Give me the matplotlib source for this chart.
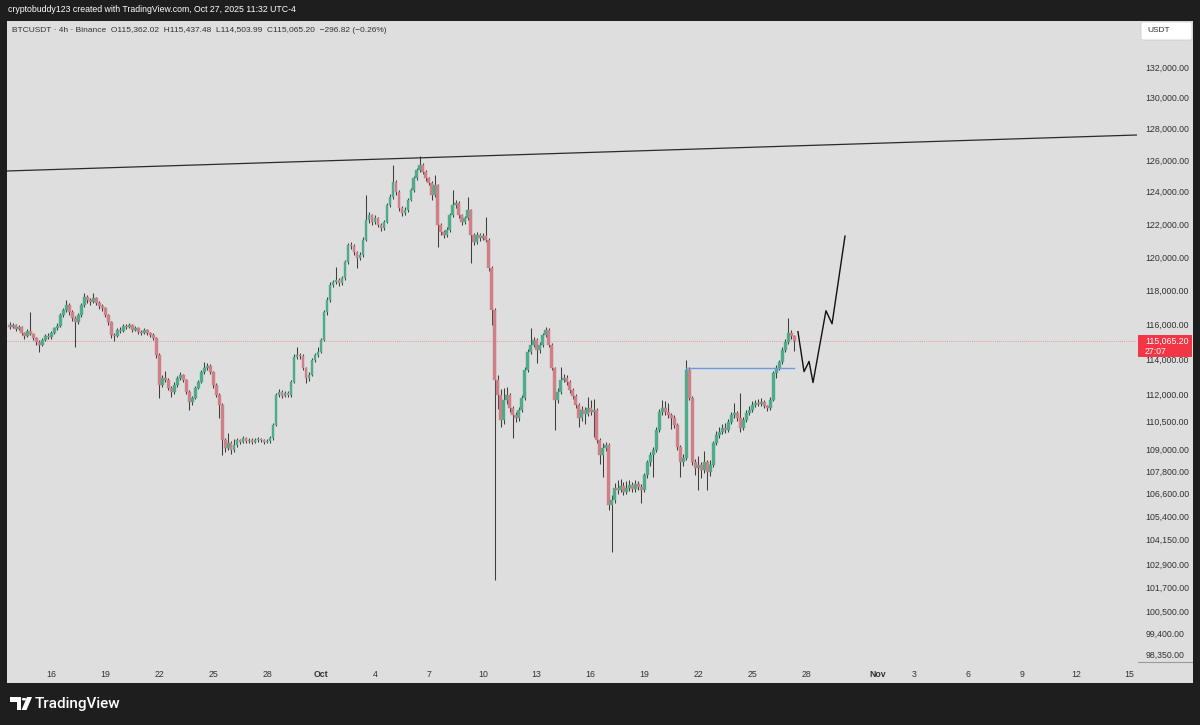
import numpy as np
import pandas as pd
import matplotlib
matplotlib.use('Agg')
import matplotlib.pyplot as plt
from matplotlib.patches import Rectangle, Polygon, Circle, FancyBboxPatch
from matplotlib.ticker import FixedLocator, NullLocator

plt.rcParams['font.family'] = ['Liberation Sans', 'DejaVu Sans']

# ---------------- data (BTCUSDT 4h, prices in thousands USDT) ----------------
first_bar = "2025-09-13 16:00"
first_open = 116.00
close_k = [
    115.87, 115.99, 115.76, 115.87, 115.52, 115.35,
    115.64, 115.46, 115.23, 115.00, 114.83, 115.12,
    115.35, 115.29, 115.52, 115.81, 115.93, 116.57,
    116.86, 117.16, 116.74, 116.39, 116.16, 116.57,
    117.16, 117.63, 117.45, 117.33, 117.57, 117.27,
    117.10, 116.98, 116.57, 116.16, 115.41, 115.35,
    115.70, 115.66, 115.93, 115.87, 115.99, 115.70,
    115.81, 115.58, 115.55, 115.70, 115.52, 115.41,
    115.23, 114.26, 112.55, 112.94, 112.83, 112.38,
    112.16, 112.55, 112.94, 113.12, 112.83, 112.16,
    111.59, 111.82, 112.38, 112.72, 113.29, 113.51,
    113.63, 113.29, 112.55, 111.99, 111.43, 109.49,
    109.05, 109.32, 108.94, 109.21, 109.49, 109.38,
    109.60, 109.43, 109.49, 109.38, 109.49, 109.54,
    109.49, 109.38, 109.43, 109.60, 110.32, 111.99,
    112.16, 111.93, 112.10, 111.99, 112.72, 114.14,
    114.26, 114.20, 113.51, 112.94, 113.12, 113.97,
    114.26, 114.43, 115.12, 116.74, 117.45, 118.34,
    118.51, 118.63, 118.46, 118.75, 119.71, 120.73,
    120.67, 120.31, 119.95, 120.13, 121.04, 122.26,
    122.56, 122.13, 122.38, 121.95, 121.77, 122.13,
    123.18, 123.67, 124.61, 123.98, 122.99, 122.69,
    122.87, 123.49, 124.11, 124.86, 125.36, 125.68,
    125.23, 124.86, 124.54, 123.80, 124.42, 121.95,
    121.52, 121.34, 121.65, 122.56, 123.18, 123.30,
    122.56, 122.13, 122.38, 122.87, 121.34, 120.91,
    121.34, 121.16, 121.28, 121.04, 119.35, 116.86,
    112.83, 111.99, 110.59, 111.71, 111.99, 111.26,
    110.87, 110.70, 111.15, 111.82, 113.40, 114.43,
    114.83, 115.12, 114.54, 114.83, 115.41, 115.70,
    114.83, 113.51, 111.71, 112.16, 112.83, 112.94,
    112.72, 112.27, 111.93, 111.43, 110.70, 111.15,
    110.92, 111.26, 111.04, 111.15, 109.49, 108.67,
    109.05, 109.21, 105.98, 106.24, 106.89, 106.78,
    107.00, 106.67, 106.89, 107.05, 106.83, 107.10,
    106.94, 106.78, 107.58, 108.29, 108.67, 108.94,
    110.04, 111.04, 111.26, 111.04, 110.87, 110.70,
    110.32, 109.10, 108.29, 108.51, 113.40, 111.82,
    108.29, 107.96, 108.13, 107.86, 108.29, 107.75,
    108.13, 109.32, 109.76, 109.93, 110.15, 110.04,
    110.48, 110.87, 110.98, 110.70, 110.15, 110.59,
    110.98, 111.15, 111.43, 111.54, 111.48, 111.59,
    111.37, 111.26, 111.71, 113.23, 113.51, 113.86,
    114.54, 115.00, 115.52, 115.362, 115.065,
]
high_k = [
    116.15, 116.10, 116.05, 115.98, 115.93, 115.60,
    115.75, 116.74, 115.55, 115.30, 115.10, 115.22,
    115.45, 115.50, 115.62, 115.90, 116.10, 116.70,
    117.00, 117.45, 117.25, 116.85, 116.50, 116.70,
    117.30, 117.86, 117.75, 117.55, 117.86, 117.65,
    117.40, 117.20, 117.05, 116.65, 116.25, 115.55,
    115.80, 115.85, 116.05, 116.02, 116.10, 116.05,
    115.92, 115.88, 115.70, 115.80, 115.78, 115.60,
    115.50, 115.30, 114.35, 113.10, 113.35, 112.95,
    112.50, 112.70, 113.05, 113.30, 113.20, 112.90,
    112.25, 111.95, 112.50, 112.85, 113.40, 113.86,
    113.80, 113.75, 113.35, 112.65, 112.10, 111.55,
    109.60, 109.90, 109.45, 109.55, 109.60, 109.55,
    109.70, 109.68, 109.62, 109.58, 109.60, 109.65,
    109.62, 109.55, 109.55, 109.70, 110.45, 112.10,
    112.35, 112.25, 112.22, 112.20, 112.85, 114.30,
    114.71, 114.40, 114.30, 113.60, 113.30, 114.10,
    114.40, 114.71, 115.25, 116.85, 117.60, 118.50,
    118.65, 119.41, 118.75, 118.90, 119.85, 120.85,
    120.90, 120.80, 120.40, 120.30, 121.20, 123.80,
    122.75, 122.65, 122.55, 122.45, 122.05, 122.25,
    123.30, 123.85, 125.68, 124.75, 124.10, 123.10,
    123.05, 123.60, 124.25, 125.00, 125.50, 126.24,
    125.80, 125.35, 124.95, 124.65, 125.04, 124.50,
    122.05, 121.65, 121.80, 122.70, 124.11, 123.50,
    123.40, 122.65, 122.50, 123.67, 122.95, 121.45,
    121.50, 121.45, 121.45, 122.44, 121.15, 119.45,
    117.00, 113.10, 112.30, 112.40, 112.45, 112.10,
    111.40, 111.05, 111.30, 112.00, 113.55, 114.60,
    115.82, 115.30, 115.25, 115.00, 115.55, 115.87,
    115.80, 114.95, 113.60, 112.40, 113.57, 113.20,
    113.10, 112.85, 112.40, 112.05, 111.55, 111.35,
    111.30, 111.88, 111.70, 111.75, 111.25, 109.60,
    109.30, 109.40, 109.30, 106.50, 107.15, 107.30,
    107.35, 107.20, 107.25, 107.30, 107.20, 107.30,
    107.25, 107.10, 107.70, 108.40, 108.85, 109.10,
    110.20, 111.20, 111.71, 111.65, 111.55, 111.00,
    110.85, 110.45, 109.20, 108.70, 113.97, 113.55,
    111.95, 108.45, 108.60, 108.30, 108.90, 108.40,
    108.40, 109.45, 110.00, 110.21, 110.35, 110.45,
    110.65, 111.05, 111.54, 111.10, 112.10, 110.75,
    111.15, 111.35, 111.65, 111.70, 111.75, 111.80,
    111.70, 111.45, 111.85, 113.35, 113.70, 113.97,
    114.70, 115.20, 116.39, 115.70, 115.437,
]
low_k = [
    115.75, 115.80, 115.65, 115.68, 115.40, 115.20,
    115.28, 115.38, 115.10, 114.85, 114.43, 114.75,
    115.05, 115.15, 115.20, 115.45, 115.72, 115.85,
    116.45, 116.75, 116.60, 116.25, 114.71, 116.05,
    116.45, 117.05, 117.30, 117.15, 117.25, 117.15,
    116.95, 116.80, 116.45, 116.00, 115.25, 115.05,
    115.28, 115.55, 115.60, 115.75, 115.80, 115.60,
    115.62, 115.48, 115.42, 115.48, 115.40, 115.30,
    115.10, 114.10, 111.82, 112.45, 112.70, 112.25,
    111.88, 112.05, 112.45, 112.85, 112.70, 112.05,
    111.15, 111.45, 111.75, 112.30, 112.65, 113.20,
    113.40, 113.15, 112.40, 111.85, 110.70, 108.67,
    108.85, 108.95, 108.75, 108.85, 109.10, 109.25,
    109.30, 109.32, 109.35, 109.28, 109.30, 109.40,
    109.38, 109.28, 109.30, 109.35, 109.50, 110.25,
    111.85, 111.80, 111.85, 111.88, 111.90, 112.65,
    114.05, 114.05, 113.40, 112.65, 112.80, 113.05,
    113.85, 114.15, 114.35, 115.05, 116.60, 117.35,
    118.20, 118.40, 118.30, 118.35, 118.65, 119.60,
    120.50, 120.15, 119.35, 119.80, 120.00, 120.95,
    122.10, 121.95, 122.00, 121.80, 121.60, 121.65,
    122.05, 123.05, 123.55, 123.80, 122.80, 122.50,
    122.55, 122.75, 123.40, 124.00, 124.75, 125.25,
    125.10, 124.70, 124.40, 123.49, 123.70, 120.61,
    121.35, 121.15, 121.20, 121.55, 122.45, 123.00,
    122.40, 121.95, 122.00, 122.25, 119.65, 120.75,
    120.80, 121.00, 121.05, 120.90, 119.20, 115.99,
    102.07, 111.20, 110.20, 110.40, 111.50, 111.05,
    109.60, 110.50, 110.55, 111.05, 111.70, 113.30,
    114.30, 114.70, 113.80, 114.40, 114.70, 115.30,
    114.70, 113.40, 110.04, 111.55, 112.05, 112.70,
    112.55, 112.10, 111.75, 111.25, 110.21, 110.55,
    110.40, 110.80, 110.90, 109.65, 109.35, 108.20,
    107.50, 108.90, 105.71, 103.51, 106.10, 106.55,
    106.65, 106.50, 106.55, 106.75, 106.65, 106.70,
    106.80, 106.08, 106.70, 107.45, 108.10, 107.48,
    108.85, 109.95, 110.90, 110.85, 110.70, 110.10,
    110.15, 108.95, 107.48, 108.10, 108.40, 111.70,
    108.15, 107.60, 106.78, 107.40, 107.70, 106.78,
    107.55, 108.00, 109.20, 109.60, 109.80, 109.85,
    109.95, 110.35, 110.70, 110.55, 109.95, 110.05,
    110.50, 110.85, 111.05, 111.30, 111.35, 111.40,
    111.25, 111.10, 111.15, 111.65, 112.94, 113.40,
    113.75, 114.45, 114.90, 115.20, 114.504,
]
last_price = 115065.20

# hand-drawn trendline, horizontal level and projected path
trend_dates = ["2025-09-13 12:43", "2025-11-15 09:50"]
trend_prices = [125296, 127577]
level_dates = ["2025-10-21 08:00", "2025-10-27 08:00"]
level_price = 113500
proj_dates = ["2025-10-27 13:00", "2025-10-27 21:07", "2025-10-28 03:50",
              "2025-10-28 09:07", "2025-10-29 02:24", "2025-10-29 10:33",
              "2025-10-30 03:50"]
proj_prices = [115600, 113310, 113890, 112690, 116820, 116060, 121270]

price_ticks = [132000, 130000, 128000, 126000, 124000, 122000, 120000, 118000,
               116000, 114000, 112000, 110500, 109000, 107800, 106600, 105400,
               104150, 102900, 101700, 100500, 99400, 98350]
date_ticks = ["2025-09-16", "2025-09-19", "2025-09-22", "2025-09-25", "2025-09-28",
              "2025-10-01", "2025-10-04", "2025-10-07", "2025-10-10", "2025-10-13",
              "2025-10-16", "2025-10-19", "2025-10-22", "2025-10-25", "2025-10-28",
              "2025-11-01", "2025-11-03", "2025-11-06", "2025-11-09", "2025-11-12",
              "2025-11-15"]
date_labels = ["16", "19", "22", "25", "28", "Oct", "4", "7", "10", "13", "16",
               "19", "22", "25", "28", "Nov", "3", "6", "9", "12", "15"]

header = "cryptobuddy123 created with TradingView.com, Oct 27, 2025 11:32 UTC-4"
legend = ("BTCUSDT \u00b7 4h \u00b7 Binance  O115,362.02  H115,437.48  "
          "L114,503.99  C115,065.20  \u2212296.82 (\u22120.26%)")

# ---------------- helpers ----------------
REF = pd.Timestamp("2025-10-01")
def to_days(ts):
    return np.asarray((pd.to_datetime(ts) - REF) / pd.Timedelta("1D"), dtype=float)

W, H = 1200, 725
def fx(x): return x / W
def fy(y): return 1 - y / H

BG = "#dedede"
DARK = "#1e1e1e"
GREEN = "#4fac8b"
RED = "#d07e88"
WICK = "#3e3e3e"

closes = np.array(close_k) * 1000
highs = np.array(high_k) * 1000
lows = np.array(low_k) * 1000
opens = np.concatenate([[first_open * 1000], closes[:-1]])
times = pd.date_range(first_bar, periods=len(closes), freq="4h")
xs = to_days(times)

fig = plt.figure(figsize=(W / 100, H / 100), dpi=100, facecolor=DARK)
fig.patches.append(Rectangle((fx(7), fy(683)), fx(1193) - fx(7), fy(21) - fy(683),
                             transform=fig.transFigure, facecolor=BG,
                             edgecolor="none", zorder=-10))

ax = fig.add_axes([fx(7), fy(660), fx(1137) - fx(7), fy(21) - fy(660)])
ax.set_zorder(1)
ax.set_facecolor(BG)
ax.set_yscale("log")
ax.set_xlim((7 - 321) / 17.97, (1137 - 321) / 17.97)
ax.set_ylim(98060, 135079)
for s in ax.spines.values():
    s.set_visible(False)

# candles
up = closes >= opens
body_cols = np.where(up, GREEN, RED)
ax.vlines(xs, lows, highs, color=WICK, lw=0.75, zorder=2)
ax.bar(xs, np.abs(closes - opens), bottom=np.minimum(opens, closes), width=0.15,
       color=body_cols, edgecolor=body_cols, linewidth=0.3, zorder=3)

# current price line
ax.axhline(last_price, color="#e8828a", lw=0.6, ls=(0, (1, 1.5)), zorder=1)

# drawings
ax.plot(to_days(trend_dates), trend_prices, color="#2a2a2a", lw=0.9, zorder=4)
ax.plot(to_days(level_dates), [level_price, level_price], color="#6f9ad8", lw=1.0, zorder=4)
ax.plot(to_days(proj_dates), proj_prices, color="#111111", lw=1.0, zorder=4)

# axes ticks
ax.yaxis.tick_right()
ax.yaxis.set_major_locator(FixedLocator(price_ticks))
ax.yaxis.set_minor_locator(NullLocator())
ax.set_yticklabels([f"{v:,.2f}" for v in price_ticks])
ax.tick_params(axis="y", length=0, pad=6.0, labelsize=6.3, labelcolor="#333333")
ax.xaxis.set_major_locator(FixedLocator(to_days(date_ticks)))
ax.xaxis.set_minor_locator(NullLocator())
ax.set_xticklabels(date_labels)
ax.tick_params(axis="x", length=0, pad=7, labelsize=6.3, labelcolor="#333333")
for lbl in ax.get_xticklabels():
    if lbl.get_text() in ("Oct", "Nov"):
        lbl.set_fontweight("bold")

# texts
fig.text(fx(8), fy(10), header, color="white", fontsize=6.3, va="center", ha="left")
fig.text(fx(12), fy(30), legend, color="#333333", fontsize=6.0, va="center", ha="left",
         zorder=5)

# USDT box
fig.patches.append(FancyBboxPatch((fx(1141), fy(40)), fx(1192) - fx(1141), fy(22) - fy(40),
                                  boxstyle="round,pad=0,rounding_size=0.002",
                                  transform=fig.transFigure, facecolor="white",
                                  edgecolor="#c8c8c8", lw=0.5, zorder=5))
fig.text(fx(1147), fy(31), "USDT", color="#333333", fontsize=6.0, va="center",
         ha="left", zorder=6)

# price label
fig.patches.append(Rectangle((fx(1138), fy(357)), fx(1192) - fx(1138), fy(335) - fy(357),
                             transform=fig.transFigure, facecolor="#f23645",
                             edgecolor="none", zorder=5))
fig.text(fx(1145), fy(341), f"{last_price:,.2f}", color="white", fontsize=6.3,
         va="center", ha="left", zorder=6)
fig.text(fx(1145), fy(351), "27:07", color="white", fontsize=6.3, va="center",
         ha="left", zorder=6)

# corner separator
fig.lines.append(plt.Line2D([fx(1138), fx(1192)], [fy(662), fy(662)],
                            transform=fig.transFigure, color="#9a9a9a", lw=0.8))

# TradingView logo
fig.patches.append(Polygon([(fx(10), fy(697)), (fx(21), fy(697)), (fx(21), fy(710)),
                            (fx(16.5), fy(710)), (fx(16.5), fy(701.5)), (fx(10), fy(701.5))],
                           closed=True, transform=fig.transFigure, facecolor="white",
                           edgecolor="none"))
fig.patches.append(Circle((fx(24), fy(699.2)), 2.2 / W, transform=fig.transFigure,
                          facecolor="white", edgecolor="none"))
fig.patches.append(Polygon([(fx(27), fy(697)), (fx(32), fy(697)), (fx(26.5), fy(710)),
                            (fx(21.5), fy(710))],
                           closed=True, transform=fig.transFigure, facecolor="white",
                           edgecolor="none"))
fig.text(fx(35), fy(704), "TradingView", color="white", fontsize=11, va="center",
         ha="left", family=["Roboto", "DejaVu Sans"], fontweight="medium")

fig.savefig("out.png", dpi=100, facecolor=DARK)
